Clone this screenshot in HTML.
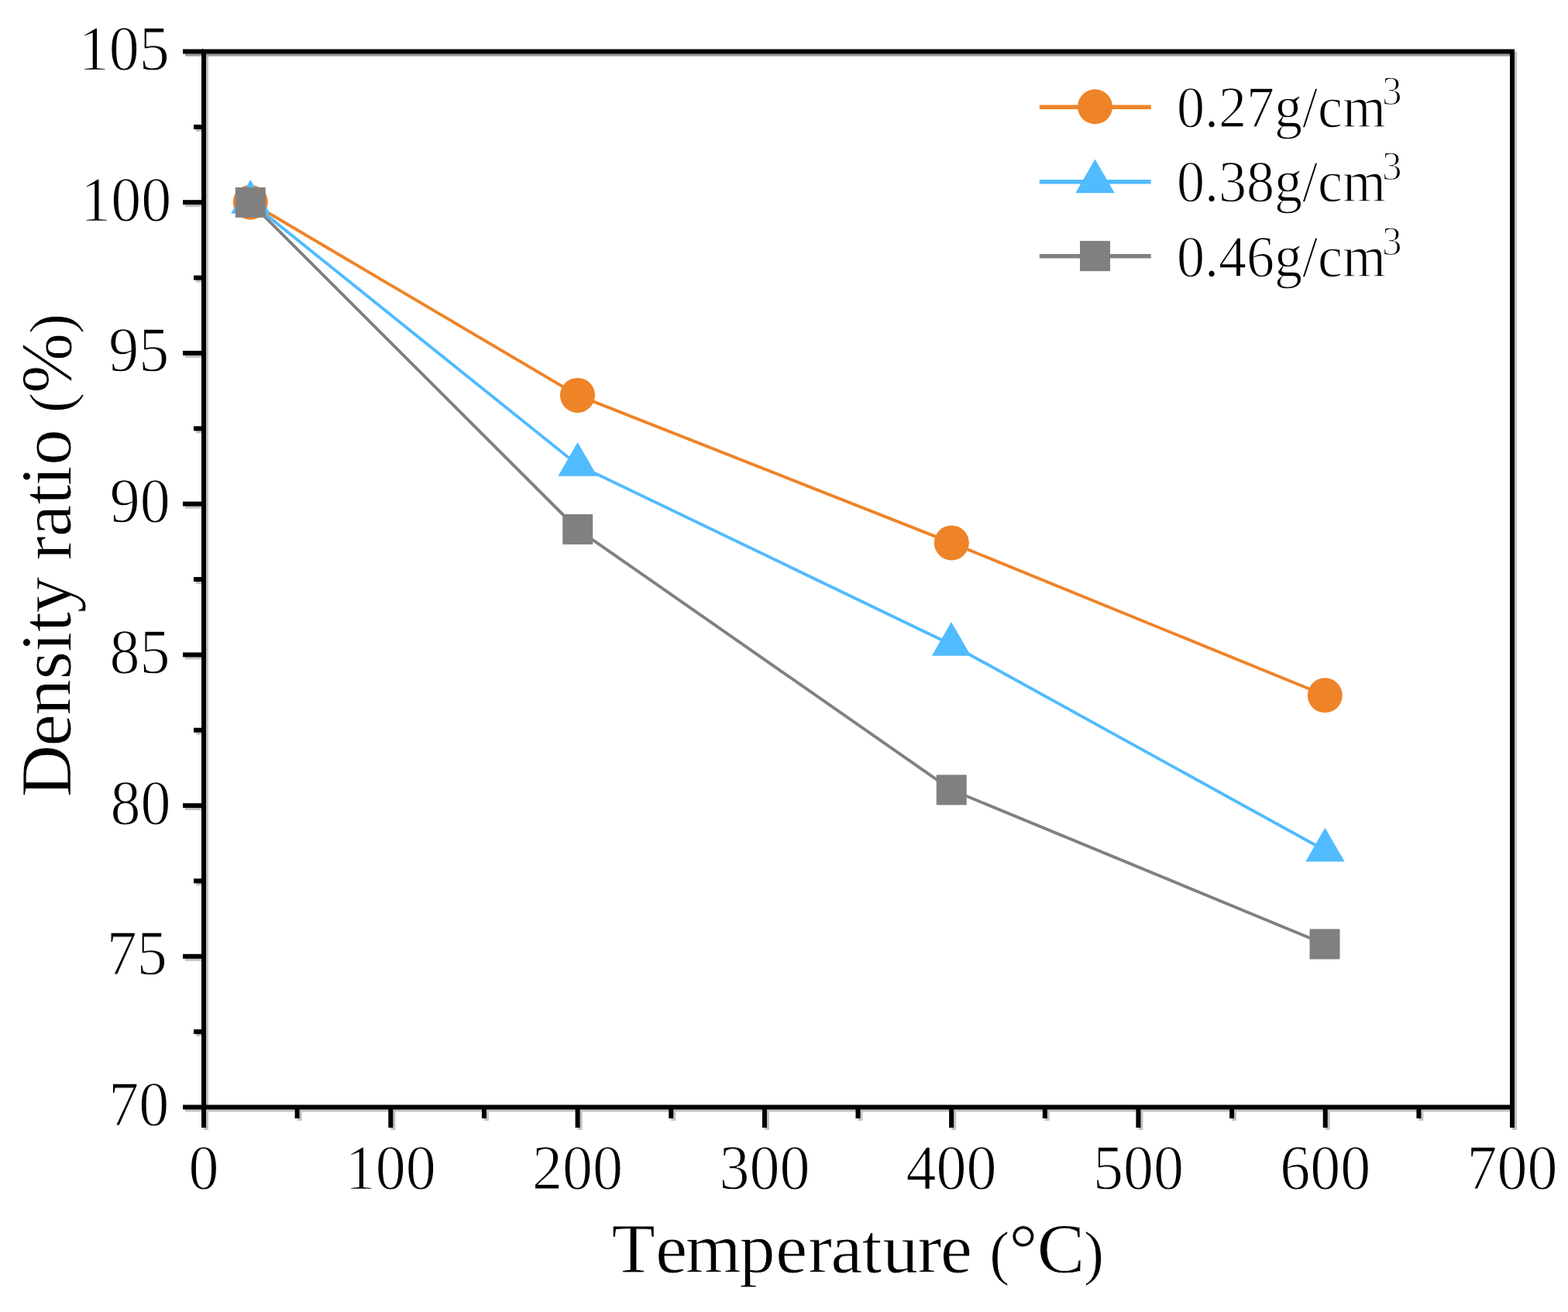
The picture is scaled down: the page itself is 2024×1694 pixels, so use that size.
<!DOCTYPE html>
<html><head><meta charset="utf-8"><title>Density ratio vs Temperature</title>
<style>
html,body{margin:0;padding:0;background:#fff;}
body{width:2024px;height:1694px;overflow:hidden;}
svg{display:block;}
text{font-family:"Liberation Serif","Times New Roman",serif;fill:#000;stroke:#fff;stroke-width:1.2px;}
text.t{stroke-width:0.8px;}
</style></head>
<body>
<svg width="2024" height="1694" viewBox="0 0 2024 1694">
<rect x="0" y="0" width="2024" height="1694" fill="#fff"/>
<polyline points="323.3,261.4 745.7,683.4 1228.2,1019.9 1710.0,1219.0" fill="none" stroke="#808080" stroke-width="3.9" stroke-linejoin="miter"/>
<polyline points="323.3,261.1 745.6,600.2 1228.0,832.2 1710.4,1098.0" fill="none" stroke="#50BBFF" stroke-width="3.9" stroke-linejoin="miter"/>
<polyline points="323.3,261.2 745.5,510.4 1228.3,700.9 1710.3,897.8" fill="none" stroke="#EF8328" stroke-width="3.9" stroke-linejoin="miter"/>
<circle cx="323.3" cy="261.2" r="22.5" fill="#EF8328"/>
<circle cx="745.5" cy="510.4" r="22.5" fill="#EF8328"/>
<circle cx="1228.3" cy="700.9" r="22.5" fill="#EF8328"/>
<circle cx="1710.3" cy="897.8" r="22.5" fill="#EF8328"/>
<polygon points="323.3,231.9 298.1,275.7 348.6,275.7" fill="#50BBFF"/>
<polygon points="745.6,571.0 720.4,614.8 770.9,614.8" fill="#50BBFF"/>
<polygon points="1228.0,803.0 1202.8,846.8 1253.2,846.8" fill="#50BBFF"/>
<polygon points="1710.4,1068.8 1685.2,1112.6 1735.7,1112.6" fill="#50BBFF"/>
<rect x="303.8" y="241.9" width="39.0" height="39.0" fill="#808080"/>
<rect x="726.2" y="663.9" width="39.0" height="39.0" fill="#808080"/>
<rect x="1208.7" y="1000.4" width="39.0" height="39.0" fill="#808080"/>
<rect x="1690.5" y="1199.5" width="39.0" height="39.0" fill="#808080"/>
<g transform="translate(3,3)" stroke="#c2c2c2" opacity="1"><rect x="263.0" y="66.5" width="1689.0" height="1363.0" fill="none"  stroke-width="6"/>
<line x1="236" y1="1429.5" x2="263.0" y2="1429.5"  stroke-width="6"/>
<line x1="236" y1="1234.8" x2="263.0" y2="1234.8"  stroke-width="6"/>
<line x1="236" y1="1040.1" x2="263.0" y2="1040.1"  stroke-width="6"/>
<line x1="236" y1="845.4" x2="263.0" y2="845.4"  stroke-width="6"/>
<line x1="236" y1="650.6" x2="263.0" y2="650.6"  stroke-width="6"/>
<line x1="236" y1="455.9" x2="263.0" y2="455.9"  stroke-width="6"/>
<line x1="236" y1="261.2" x2="263.0" y2="261.2"  stroke-width="6"/>
<line x1="236" y1="66.5" x2="263.0" y2="66.5"  stroke-width="6"/>
<line x1="250" y1="1332.1" x2="263.0" y2="1332.1"  stroke-width="6"/>
<line x1="250" y1="1137.4" x2="263.0" y2="1137.4"  stroke-width="6"/>
<line x1="250" y1="942.7" x2="263.0" y2="942.7"  stroke-width="6"/>
<line x1="250" y1="748.0" x2="263.0" y2="748.0"  stroke-width="6"/>
<line x1="250" y1="553.3" x2="263.0" y2="553.3"  stroke-width="6"/>
<line x1="250" y1="358.6" x2="263.0" y2="358.6"  stroke-width="6"/>
<line x1="250" y1="163.9" x2="263.0" y2="163.9"  stroke-width="6"/>
<line x1="263.0" y1="1429.5" x2="263.0" y2="1456"  stroke-width="6"/>
<line x1="504.3" y1="1429.5" x2="504.3" y2="1456"  stroke-width="6"/>
<line x1="745.6" y1="1429.5" x2="745.6" y2="1456"  stroke-width="6"/>
<line x1="986.9" y1="1429.5" x2="986.9" y2="1456"  stroke-width="6"/>
<line x1="1228.1" y1="1429.5" x2="1228.1" y2="1456"  stroke-width="6"/>
<line x1="1469.4" y1="1429.5" x2="1469.4" y2="1456"  stroke-width="6"/>
<line x1="1710.7" y1="1429.5" x2="1710.7" y2="1456"  stroke-width="6"/>
<line x1="1952.0" y1="1429.5" x2="1952.0" y2="1456"  stroke-width="6"/>
<line x1="383.6" y1="1429.5" x2="383.6" y2="1444"  stroke-width="6"/>
<line x1="624.9" y1="1429.5" x2="624.9" y2="1444"  stroke-width="6"/>
<line x1="866.2" y1="1429.5" x2="866.2" y2="1444"  stroke-width="6"/>
<line x1="1107.5" y1="1429.5" x2="1107.5" y2="1444"  stroke-width="6"/>
<line x1="1348.8" y1="1429.5" x2="1348.8" y2="1444"  stroke-width="6"/>
<line x1="1590.1" y1="1429.5" x2="1590.1" y2="1444"  stroke-width="6"/>
<line x1="1831.4" y1="1429.5" x2="1831.4" y2="1444"  stroke-width="6"/></g>
<line x1="239" y1="71" x2="1949.0" y2="71" stroke="#9a9a9a" stroke-width="3"/>
<g stroke="#000"><rect x="263.0" y="66.5" width="1689.0" height="1363.0" fill="none" stroke-width="6"/>
<line x1="236" y1="1429.5" x2="263.0" y2="1429.5" stroke-width="6"/>
<line x1="236" y1="1234.8" x2="263.0" y2="1234.8" stroke-width="6"/>
<line x1="236" y1="1040.1" x2="263.0" y2="1040.1" stroke-width="6"/>
<line x1="236" y1="845.4" x2="263.0" y2="845.4" stroke-width="6"/>
<line x1="236" y1="650.6" x2="263.0" y2="650.6" stroke-width="6"/>
<line x1="236" y1="455.9" x2="263.0" y2="455.9" stroke-width="6"/>
<line x1="236" y1="261.2" x2="263.0" y2="261.2" stroke-width="6"/>
<line x1="236" y1="66.5" x2="263.0" y2="66.5" stroke-width="6"/>
<line x1="250" y1="1332.1" x2="263.0" y2="1332.1" stroke-width="6"/>
<line x1="250" y1="1137.4" x2="263.0" y2="1137.4" stroke-width="6"/>
<line x1="250" y1="942.7" x2="263.0" y2="942.7" stroke-width="6"/>
<line x1="250" y1="748.0" x2="263.0" y2="748.0" stroke-width="6"/>
<line x1="250" y1="553.3" x2="263.0" y2="553.3" stroke-width="6"/>
<line x1="250" y1="358.6" x2="263.0" y2="358.6" stroke-width="6"/>
<line x1="250" y1="163.9" x2="263.0" y2="163.9" stroke-width="6"/>
<line x1="263.0" y1="1429.5" x2="263.0" y2="1456" stroke-width="6"/>
<line x1="504.3" y1="1429.5" x2="504.3" y2="1456" stroke-width="6"/>
<line x1="745.6" y1="1429.5" x2="745.6" y2="1456" stroke-width="6"/>
<line x1="986.9" y1="1429.5" x2="986.9" y2="1456" stroke-width="6"/>
<line x1="1228.1" y1="1429.5" x2="1228.1" y2="1456" stroke-width="6"/>
<line x1="1469.4" y1="1429.5" x2="1469.4" y2="1456" stroke-width="6"/>
<line x1="1710.7" y1="1429.5" x2="1710.7" y2="1456" stroke-width="6"/>
<line x1="1952.0" y1="1429.5" x2="1952.0" y2="1456" stroke-width="6"/>
<line x1="383.6" y1="1429.5" x2="383.6" y2="1444" stroke-width="6"/>
<line x1="624.9" y1="1429.5" x2="624.9" y2="1444" stroke-width="6"/>
<line x1="866.2" y1="1429.5" x2="866.2" y2="1444" stroke-width="6"/>
<line x1="1107.5" y1="1429.5" x2="1107.5" y2="1444" stroke-width="6"/>
<line x1="1348.8" y1="1429.5" x2="1348.8" y2="1444" stroke-width="6"/>
<line x1="1590.1" y1="1429.5" x2="1590.1" y2="1444" stroke-width="6"/>
<line x1="1831.4" y1="1429.5" x2="1831.4" y2="1444" stroke-width="6"/></g>
<text transform="translate(218.2,1453.0) scale(1,1.045)" font-size="78" text-anchor="end">70</text>
<text transform="translate(215.8,1258.3) scale(1,1.045)" font-size="78" text-anchor="end">75</text>
<text transform="translate(220.6,1063.6) scale(1,1.045)" font-size="78" text-anchor="end">80</text>
<text transform="translate(219.4,868.9) scale(1,1.045)" font-size="78" text-anchor="end">85</text>
<text transform="translate(219.7,674.1) scale(1,1.045)" font-size="78" text-anchor="end">90</text>
<text transform="translate(218.3,479.4) scale(1,1.045)" font-size="78" text-anchor="end">95</text>
<text transform="translate(221.2,284.7) scale(1,1.045)" font-size="78" text-anchor="end">100</text>
<text transform="translate(218.7,90.0) scale(1,1.045)" font-size="78" text-anchor="end">105</text>
<text transform="translate(263.0,1534.5) scale(1,1.045)" font-size="78" text-anchor="middle">0</text>
<text transform="translate(504.3,1534.5) scale(1,1.045)" font-size="78" text-anchor="middle">100</text>
<text transform="translate(745.6,1534.5) scale(1,1.045)" font-size="78" text-anchor="middle">200</text>
<text transform="translate(986.9,1534.5) scale(1,1.045)" font-size="78" text-anchor="middle">300</text>
<text transform="translate(1228.1,1534.5) scale(1,1.045)" font-size="78" text-anchor="middle">400</text>
<text transform="translate(1469.4,1534.5) scale(1,1.045)" font-size="78" text-anchor="middle">500</text>
<text transform="translate(1710.7,1534.5) scale(1,1.045)" font-size="78" text-anchor="middle">600</text>
<text transform="translate(1952.0,1534.5) scale(1,1.045)" font-size="78" text-anchor="middle">700</text>
<text class="t"><tspan x="789.4" y="1642.5" font-size="92">T</tspan><tspan x="846.2" y="1642.5" font-size="92">e</tspan><tspan x="885.1" y="1642.5" font-size="92">m</tspan><tspan x="954.6" y="1642.5" font-size="92">p</tspan><tspan x="1001.2" y="1642.5" font-size="92">e</tspan><tspan x="1043.2" y="1642.5" font-size="92">r</tspan><tspan x="1072.5" y="1642.5" font-size="92">a</tspan><tspan x="1112.7" y="1642.5" font-size="92">t</tspan><tspan x="1139.3" y="1642.5" font-size="92">u</tspan><tspan x="1184.6" y="1642.5" font-size="92">r</tspan><tspan x="1214.1" y="1642.5" font-size="92">e</tspan><tspan> </tspan><tspan x="1277.3" y="1643.5" font-size="78">(</tspan><tspan x="1302.6" y="1642.5" font-size="92">°</tspan><tspan x="1338.7" y="1642.5" font-size="92">C</tspan><tspan x="1399.1" y="1643.5" font-size="78">)</tspan></text>
<text class="t" transform="translate(90.5,0) rotate(-90)"><tspan x="-1029.1" y="0.0" font-size="93">D</tspan><tspan x="-963.5" y="0.0" font-size="93">e</tspan><tspan x="-923.6" y="0.0" font-size="93">n</tspan><tspan x="-877.2" y="0.0" font-size="93">s</tspan><tspan x="-841.7" y="0.0" font-size="93">i</tspan><tspan x="-816.1" y="0.0" font-size="93">t</tspan><tspan x="-791.3" y="0.0" font-size="93">y</tspan><tspan> </tspan><tspan x="-723.3" y="0.0" font-size="93">r</tspan><tspan x="-692.9" y="0.0" font-size="93">a</tspan><tspan x="-651.4" y="0.0" font-size="93">t</tspan><tspan x="-627.2" y="0.0" font-size="93">i</tspan><tspan x="-600.8" y="0.0" font-size="93">o</tspan><tspan> </tspan><tspan x="-532.9" y="1.0" font-size="78">(</tspan><tspan x="-507.5" y="0.0" font-size="93">%</tspan><tspan x="-431.0" y="1.0" font-size="78">)</tspan></text>
<line x1="1341.8" y1="138.3" x2="1485.7" y2="138.3" stroke="#EF8328" stroke-width="5.5"/>
<circle cx="1413.5" cy="137.8" r="22.5" fill="#EF8328"/>
<line x1="1341.8" y1="234.7" x2="1485.7" y2="234.7" stroke="#50BBFF" stroke-width="5.5"/>
<polygon points="1413.5,205.6 1388.2,249.3 1438.8,249.3" fill="#50BBFF"/>
<line x1="1341.8" y1="330.7" x2="1485.7" y2="330.7" stroke="#808080" stroke-width="5.5"/>
<rect x="1394.0" y="311.1" width="39.0" height="39.0" fill="#808080"/>
<text transform="translate(1519.0,163.5) scale(1,1.05)" font-size="72">0.27g/cm<tspan font-size="51" dx="-5" dy="-27">3</tspan></text>
<text transform="translate(1519.0,260.4) scale(1,1.05)" font-size="72">0.38g/cm<tspan font-size="51" dx="-5" dy="-27">3</tspan></text>
<text transform="translate(1519.0,357.0) scale(1,1.05)" font-size="72">0.46g/cm<tspan font-size="51" dx="-5" dy="-27">3</tspan></text>
</svg>
</body></html>
